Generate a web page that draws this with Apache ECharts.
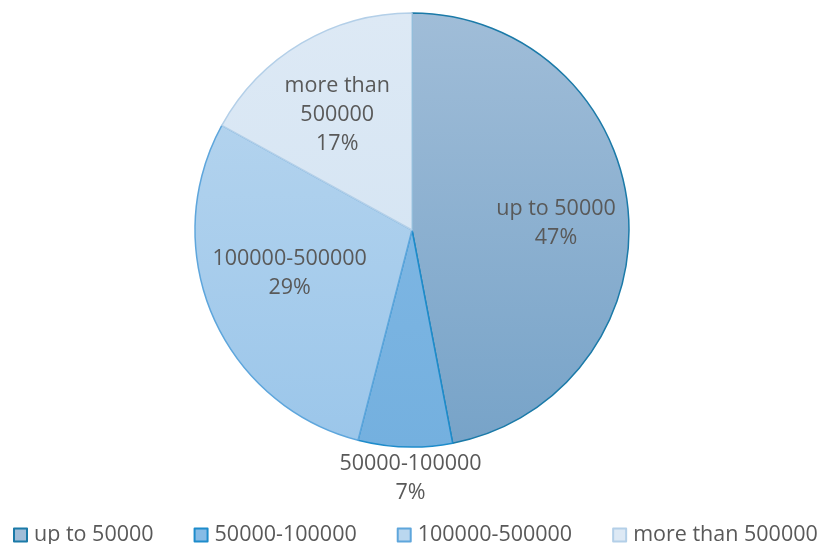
<!DOCTYPE html>
<html>
<head>
<meta charset="utf-8">
<script src="https://cdn.jsdelivr.net/npm/echarts@6/dist/echarts.min.js"></script>
<style>
  html, body { margin: 0; padding: 0; background: #ffffff; }
  #chart { width: 822px; height: 544px; }
</style>
</head>
<body>
<div id="chart"></div>
<script>
// Share of entities by size band
const categories = ['up to 50000', '50000-100000', '100000-500000', 'more than 500000'];
const shares = [47, 7, 29, 17];

// Fill gradients (top, bottom) and outline colours per band
const fillTop = ['#a0bdd8', '#86bbe6', '#bad7ef', '#dde9f5'];
const fillBottom = ['#77a3c8', '#74b0df', '#9bc6ea', '#d0e2f2'];
const borders = ['#1b7aa8', '#1e8ccb', '#5ea6dc', '#b3cfe8'];
// Nudges of each label from the slice's mid-radius point
const labelOffsets = [[33, 4], [2, 137], [-20, -1], [-18, -19]];

const cx = 412, cy = 230, R = 217;
const textColor = '#595959';
const fontFamily = '"Open Sans", "Noto Sans", sans-serif';
const fontSize = 21.5;

const data = categories.map((name, i) => ({
  name,
  value: shares[i],
  itemStyle: {
    color: {
      type: 'linear', global: true,
      x: 0, y: cy - R, x2: 0, y2: cy + R,
      colorStops: [
        { offset: 0, color: fillTop[i] },
        { offset: 1, color: fillBottom[i] }
      ]
    },
    borderColor: borders[i],
    borderWidth: 1.5
  },
  label: { offset: labelOffsets[i] }
}));

const chart = echarts.init(document.getElementById('chart'), null, { renderer: 'canvas' });
chart.setOption({
  animation: false,
  legend: {
    top: 524,
    left: 13,
    padding: 0,
    itemWidth: 13,
    itemHeight: 13,
    itemGap: 40,
    icon: 'rect',
    textStyle: { color: textColor, fontSize, fontFamily, padding: [0, 0, 0, 2] },
    data: categories
  },
  series: [{
    type: 'pie',
    center: [cx, cy],
    radius: [0, R],
    startAngle: 90,
    clockwise: true,
    data,
    label: {
      show: true,
      position: 'inside',
      formatter: p => p.name.replace('more than ', 'more than\n') + '\n' + p.value + '%',
      color: textColor,
      fontSize,
      lineHeight: 29,
      fontFamily,
      align: 'center'
    },
    labelLine: { show: false },
    emphasis: { disabled: true }
  }]
});
</script>
</body>
</html>
